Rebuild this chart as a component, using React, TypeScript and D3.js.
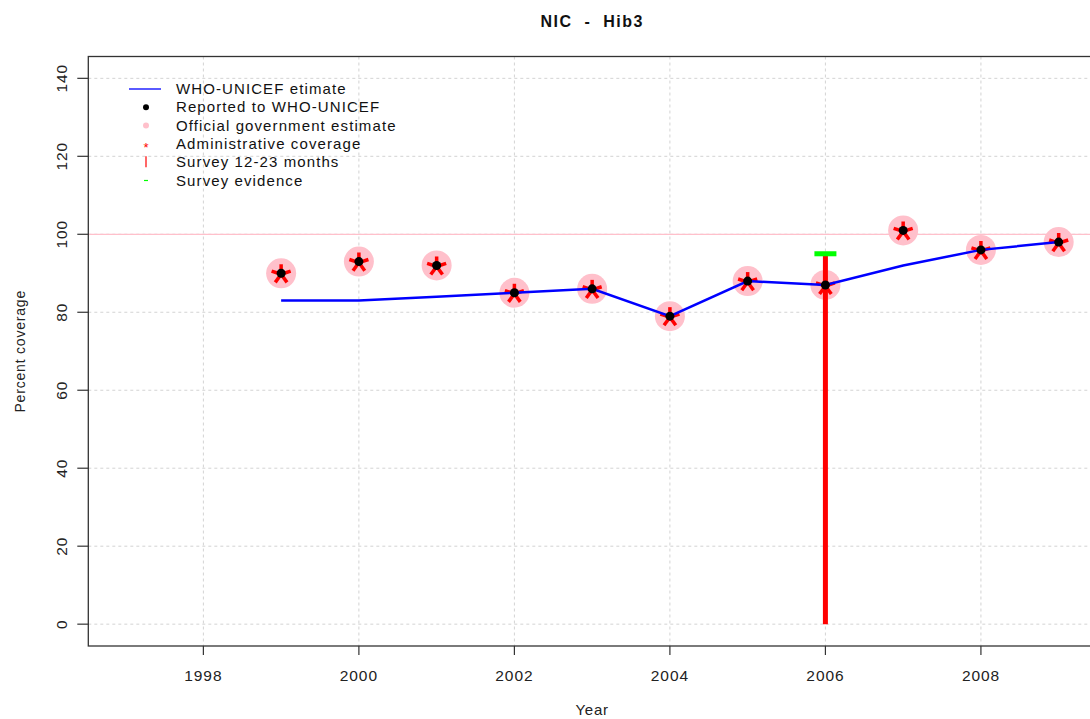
import React from "react";
import * as d3 from "d3";

const years = [1999, 2000, 2001, 2002, 2003, 2004, 2005, 2006, 2007, 2008, 2009];
const estimate = [83, 83, 84, 85, 86, 79, 88, 87, 92, 96, 98];
const reported = [90, 93, 92, 85, 86, 79, 88, 87, 101, 96, 98];
const official = [90, 93, 92, 85, 86, 79, 88, 87, 101, 96, 98];
const administrative = [90, 93, 92, 85, 86, 79, 88, 87, 101, 96, 98];
const surveyYears = [2006];
const surveyValues = [95];
const evidenceYears = [2006];
const evidenceValues = [95];
const xTicks = [1998, 2000, 2002, 2004, 2006, 2008];
const yTicks = [0, 20, 40, 60, 80, 100, 120, 140];
const legendLabels = [
  "WHO-UNICEF etimate",
  "Reported to WHO-UNICEF",
  "Official government estimate",
  "Administrative coverage",
  "Survey 12-23 months",
  "Survey evidence",
];

const W = 1090;
const H = 719;
const left = 88.3;
const right = 1096;
const top = 56.5;
const bottom = 646;

export default function App() {
  const x = d3.scaleLinear().domain([1996.52, 2009.48]).range([left, right]);
  const y = d3.scaleLinear().domain([-5.6, 145.6]).range([bottom, top]);
  const line = d3
    .line<number>()
    .x((_, i) => x(years[i]))
    .y((d) => y(d));
  const font = "'Liberation Sans', Arial, sans-serif";

  const asterisk = (cx: number, cy: number, r: number, sw: number, key: string) => (
    <g key={key} stroke="#ff0000" strokeWidth={sw} strokeLinecap="butt">
      {[0, 1, 2, 3, 4].map((k) => {
        const a = ((-90 + k * 72) * Math.PI) / 180;
        return <line key={k} x1={cx} y1={cy} x2={cx + r * Math.cos(a)} y2={cy + r * Math.sin(a)} />;
      })}
    </g>
  );

  const legX = 145;
  const legY0 = 89;
  const legDy = 18.3;

  return (
    <svg
      width={W}
      height={H}
      style={{ position: "absolute", left: 0, top: 0, background: "#fff" }}
      fontFamily={font}
    >
      <rect width={W} height={H} fill="#fff" />
      <defs>
        <clipPath id="plotclip">
          <rect x={left} y={top} width={right - left} height={bottom - top} />
        </clipPath>
      </defs>
      {/* grid */}
      <g stroke="#d3d3d3" strokeWidth={1} strokeDasharray="3,3">
        {xTicks.map((t) => (
          <line key={"gx" + t} x1={x(t)} x2={x(t)} y1={top} y2={bottom} />
        ))}
        {yTicks.map((t) => (
          <line key={"gy" + t} x1={left} x2={right} y1={y(t)} y2={y(t)} />
        ))}
      </g>
      <line x1={left} x2={right} y1={y(100)} y2={y(100)} stroke="#ffc0cb" strokeWidth={1.2} />
      <g clipPath="url(#plotclip)">
        {years.map((yr, i) => (
          <circle key={"o" + yr} cx={x(yr)} cy={y(official[i])} r={15} fill="#ffc0cb" />
        ))}
        {surveyYears.map((yr, i) => (
          <line key={"s" + yr} x1={x(yr)} x2={x(yr)} y1={y(0)} y2={y(surveyValues[i])} stroke="#ff0000" strokeWidth={5} />
        ))}
        {evidenceYears.map((yr, i) => (
          <line
            key={"e" + yr}
            x1={x(yr) - 11}
            x2={x(yr) + 11}
            y1={y(evidenceValues[i])}
            y2={y(evidenceValues[i])}
            stroke="#00ff00"
            strokeWidth={5}
          />
        ))}
        {years.map((yr, i) => asterisk(x(yr), y(administrative[i]) + 1, 10, 3.5, "a" + yr))}
        <path d={line(estimate) || ""} fill="none" stroke="#0000ff" strokeWidth={2.5} />
        {years.map((yr, i) => (
          <circle key={"r" + yr} cx={x(yr)} cy={y(reported[i])} r={4.5} fill="#000" />
        ))}
      </g>
      <rect x={left} y={top} width={right - left} height={bottom - top} fill="none" stroke="#333" strokeWidth={1.3} />
      <g>
        {xTicks.map((t) => (
          <g key={"xt" + t}>
            <line x1={x(t)} x2={x(t)} y1={bottom} y2={bottom + 9} stroke="#333" strokeWidth={1.2} />
            <text x={x(t)} y={bottom + 35} textAnchor="middle" fontSize={15.5} letterSpacing={0.9} fill="#222">
              {t}
            </text>
          </g>
        ))}
      </g>
      <g>
        {yTicks.map((t) => (
          <g key={"yt" + t}>
            <line x1={left - 11} x2={left} y1={y(t)} y2={y(t)} stroke="#333" strokeWidth={1.2} />
            <text
              transform={`translate(${left - 21.5},${y(t)}) rotate(-90)`}
              textAnchor="middle"
              fontSize={15.5}
              letterSpacing={0.9}
              fill="#222"
            >
              {t}
            </text>
          </g>
        ))}
      </g>
      <text
        x={(left + right) / 2}
        y={27}
        textAnchor="middle"
        fontSize={16}
        fontWeight="bold"
        letterSpacing={1.5}
        fill="#111"
        xmlSpace="preserve"
        style={{ whiteSpace: "pre" }}
      >
        {"NIC  -  Hib3"}
      </text>
      <text x={(left + right) / 2} y={715} textAnchor="middle" fontSize={15} letterSpacing={0.8} fill="#222">
        Year
      </text>
      <text
        transform={`translate(25,${(top + bottom) / 2}) rotate(-90)`}
        textAnchor="middle"
        fontSize={14}
        letterSpacing={0.8}
        fill="#222"
      >
        Percent coverage
      </text>
      <g>
        <line x1={129} x2={161} y1={legY0} y2={legY0} stroke="#0000ff" strokeWidth={1.3} />
        <circle cx={legX + 1} cy={legY0 + legDy} r={3} fill="#000" />
        <circle cx={legX + 1} cy={legY0 + 2 * legDy} r={3} fill="#ffc0cb" />
        <text x={legX + 1} y={legY0 + 3 * legDy + 8} textAnchor="middle" fontSize={13} fill="#ff0000">
          *
        </text>
        <line x1={legX + 1} x2={legX + 1} y1={legY0 + 4 * legDy - 6} y2={legY0 + 4 * legDy + 5} stroke="#ff0000" strokeWidth={1.2} />
        <line x1={legX - 1} x2={legX + 3} y1={legY0 + 5 * legDy} y2={legY0 + 5 * legDy} stroke="#00ff00" strokeWidth={1.2} />
        {legendLabels.map((l, i) => (
          <text key={l} x={176} y={legY0 + i * legDy + 5} fontSize={15} letterSpacing={1.1} fill="#111">
            {l}
          </text>
        ))}
      </g>
    </svg>
  );
}
